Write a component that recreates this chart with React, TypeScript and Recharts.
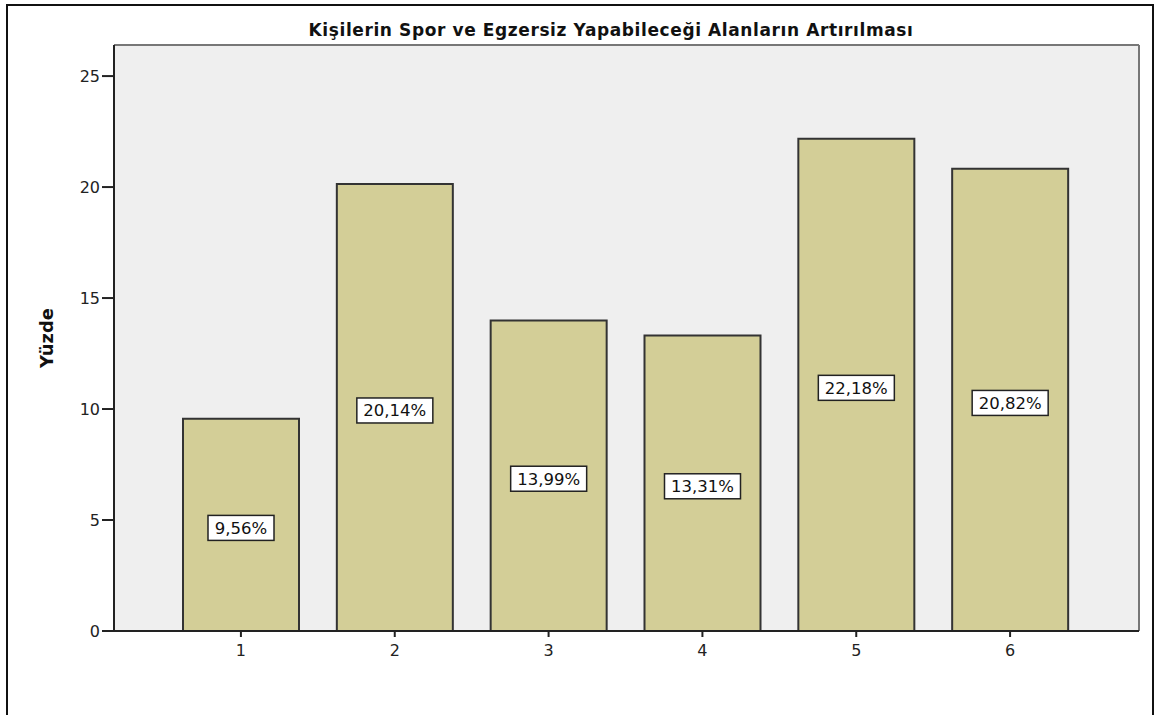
import { BarChart, Bar, XAxis, YAxis, CartesianGrid, LabelList } from 'recharts';

const CATEGORIES = ['1', '2', '3', '4', '5', '6'];
const PERCENTS = [9.56, 20.14, 13.99, 13.31, 22.18, 20.82];
const Y_TICKS = [0, 5, 10, 15, 20, 25];
const Y_MAX = 26.4;

const TITLE = 'Kişilerin Spor ve Egzersiz Yapabileceği Alanların Artırılması';
const Y_LABEL = 'Yüzde';

const data = CATEGORIES.map((c, i) => ({ category: c, value: PERCENTS[i] }));

const FONT = '"DejaVu Sans", Arial, sans-serif';
const BAR_FILL = '#d3ce97';

const formatPct = (v: number) => v.toFixed(2).replace('.', ',') + '%';

// white boxed value label in the middle of each bar
function BoxLabel(props: any) {
  const { x, y, width, height, value } = props;
  const text = formatPct(Number(value));
  const digits = text.replace(/[^0-9]/g, '').length;
  const w = 36 + digits * 10;
  const h = 25;
  const cx = x + width / 2;
  const cy = y + height / 2 + 3;
  return (
    <g>
      <rect x={cx - w / 2} y={cy - h / 2} width={w} height={h} fill="#fff" stroke="#222" strokeWidth={1.5} />
      <text x={cx} y={cy} dy="0.36em" textAnchor="middle" fontFamily={FONT} fontSize={16.5} fill="#111">
        {text}
      </text>
    </g>
  );
}

export default function App() {
  return (
    <div style={{ position: 'absolute', left: 0, top: 0, width: 1159, height: 715, background: '#fff', overflow: 'hidden' }}>
      <div
        style={{
          position: 'absolute',
          left: 6,
          top: 4,
          width: 1148,
          height: 740,
          border: '2px solid #111',
          boxSizing: 'border-box',
        }}
      />
      <BarChart
        width={1159}
        height={715}
        data={data}
        margin={{ top: 45, right: 20, bottom: 54, left: 34 }}
        style={{ position: 'absolute', left: 0, top: 0 }}
      >
        <text
          x={611}
          y={36}
          textAnchor="middle"
          fontFamily={FONT}
          fontWeight="bold"
          fontSize={17}
          letterSpacing={0.6}
          fill="#111"
        >
          {TITLE}
        </text>
        {/* grey plot background, with only the top and right edges drawn as a frame */}
        <CartesianGrid
          fill="#efefef"
          stroke="#777"
          strokeWidth={2}
          horizontalCoordinatesGenerator={({ offset }: any) => [offset.top]}
          verticalCoordinatesGenerator={({ offset }: any) => [offset.left + offset.width]}
        />
        <XAxis
          dataKey="category"
          padding={{ left: 50, right: 52 }}
          height={30}
          tickSize={6}
          tickMargin={8}
          axisLine={{ stroke: '#222', strokeWidth: 2 }}
          tickLine={{ stroke: '#222', strokeWidth: 2 }}
          tick={{ fontFamily: FONT, fontSize: 16, fill: '#222' }}
        />
        <YAxis
          domain={[0, Y_MAX]}
          ticks={Y_TICKS}
          width={80}
          tickSize={12}
          tickMargin={2}
          interval={0}
          axisLine={{ stroke: '#222', strokeWidth: 2 }}
          tickLine={{ stroke: '#222', strokeWidth: 2 }}
          tick={{ fontFamily: FONT, fontSize: 16, fill: '#222' }}
          label={{
            content: ({ viewBox }: any) => {
              const lx = viewBox.x + 13;
              const ly = viewBox.y + viewBox.height / 2;
              return (
                <text
                  x={lx}
                  y={ly}
                  transform={`rotate(-90 ${lx} ${ly})`}
                  textAnchor="middle"
                  dy="0.36em"
                  fontFamily={FONT}
                  fontWeight="bold"
                  fontSize={18}
                  fill="#111"
                >
                  {Y_LABEL}
                </text>
              );
            },
          }}
        />
        <Bar dataKey="value" barSize={116} fill={BAR_FILL} stroke="#333" strokeWidth={2} isAnimationActive={false}>
          <LabelList dataKey="value" content={<BoxLabel />} />
        </Bar>
      </BarChart>
    </div>
  );
}
